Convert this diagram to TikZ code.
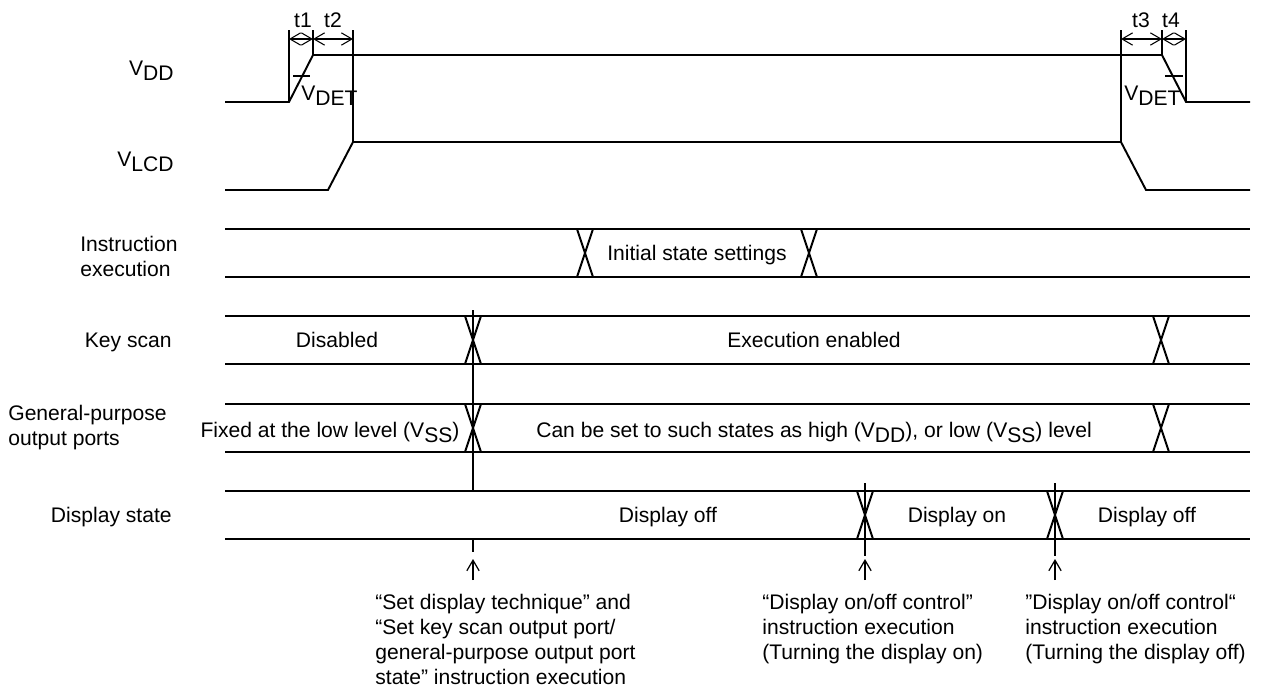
\documentclass[tikz,border=0pt]{standalone}
\usepackage{fontspec}
\setmainfont{Liberation Sans}
\usetikzlibrary{arrows.meta}

\newcommand{\lowsub}[1]{\raisebox{-3.4pt}{#1}}
\newcommand{\xcross}[3]{\draw[wave] (#1-8,#2) -- (#1+8,#3) (#1+8,#2) -- (#1-8,#3);}

\begin{document}
\begin{tikzpicture}[
    x=0.02cm, y=-0.02cm,
    every node/.style={font=\fontsize{12}{14.2}\selectfont, inner sep=0pt},
    wave/.style={line width=1.1pt},
    guide/.style={line width=0.6pt},
    span/.style={{Straight Barb[length=6pt,width=7pt]}-{Straight Barb[length=6pt,width=7pt]}, line width=0.6pt},
    marker/.style={-{Straight Barb[length=6pt,width=7pt]}, line width=0.7pt}
]
\useasboundingbox (0,0) rectangle (1262,697);

% signal names
\node (vdd) [anchor=base east] at (174,75) {V\lowsub{DD}};
\node (vlcd) [anchor=base east] at (174,166) {V\lowsub{LCD}};
\node (instr) [anchor=west, align=left] at (80,256) {Instruction\\execution};
\node (keyscan) [anchor=base east] at (172,347) {Key scan};
\node (gpport) [anchor=west, align=left] at (8,428) {General-purpose\\output ports};
\node (disp) [anchor=base east] at (172,522) {Display state};

% supply waveforms
\draw[wave] (225,102) -- (289,102) -- (313,55) -- (1162,55) -- (1186,102) -- (1250,102);
\draw[wave] (225,190) -- (328,190) -- (353,142) -- (1121,142) -- (1146,190) -- (1250,190);
\draw[guide, line width=0.8pt] (293,76) -- (310,76) (1165,76) -- (1183,76);
\node (vdet1) [anchor=base west] at (301,100) {V\lowsub{DET}};
\node (vdet2) [anchor=base west] at (1124,100) {V\lowsub{DET}};

% timing intervals
\coordinate (a1) at (289,39);
\coordinate (a2) at (313,39);
\coordinate (a3) at (353,39);
\coordinate (b1) at (1121,39);
\coordinate (b2) at (1162,39);
\coordinate (b3) at (1186,39);
\draw[guide] (289,30) -- (289,102) (313,30) -- (313,55) (353,30) -- (353,142);
\draw[guide] (1121,30) -- (1121,142) (1162,30) -- (1162,55) (1186,30) -- (1186,102);
\draw[span] (a1) -- (a2);
\draw[span] (a2) -- (a3);
\draw[span] (b1) -- (b2);
\draw[span] (b2) -- (b3);
\node (t1) at (303,20) {t1};
\node (t2) at (333,20) {t2};
\node (t3) at (1141,20) {t3};
\node (t4) at (1171,20) {t4};

% buses
\foreach \top/\bot in {229/277, 316/364, 404/452, 491/539}
    \draw[wave] (225,\top) -- (1250,\top) (225,\bot) -- (1250,\bot);
\xcross{585}{229}{277}
\xcross{809}{229}{277}
\xcross{473}{316}{364}
\xcross{1161}{316}{364}
\xcross{473}{404}{452}
\xcross{1161}{404}{452}
\xcross{865}{491}{539}
\xcross{1055}{491}{539}

\node (init) [anchor=base] at (697,260) {Initial state settings};
\node (disabled) [anchor=base] at (337,347) {Disabled};
\node (enabled) [anchor=base] at (814,347) {Execution enabled};
\node (fixed) [anchor=base] at (330,437) {Fixed at the low level (V\lowsub{SS})};
\node (settable) [anchor=base] at (814,437) {Can be set to such states as high (V\lowsub{DD}), or low (V\lowsub{SS}) level};
\node (off1) [anchor=base] at (668,522) {Display off};
\node (on) [anchor=base] at (957,522) {Display on};
\node (off2) [anchor=base] at (1147,522) {Display off};

% instruction events
\draw[guide] (473,310) -- (473,491) (473,539) -- (473,552);
\draw[guide] (865,483) -- (865,556);
\draw[guide] (1055,483) -- (1055,556);
\coordinate (e1) at (473,559);
\coordinate (e2) at (865,559);
\coordinate (e3) at (1055,559);
\draw[marker] (473,580) -- (e1);
\draw[marker] (865,580) -- (e2);
\draw[marker] (1055,580) -- (e3);

\node (note1) [anchor=north west, align=left] at (375,594) {“Set display technique” and\\“Set key scan output port/\\general-purpose output port\\state” instruction execution};
\node (note2) [anchor=north west, align=left] at (762,594) {“Display on/off control”\\instruction execution\\(Turning the display on)};
\node (note3) [anchor=north west, align=left] at (1025,594) {”Display on/off control“\\instruction execution\\(Turning the display off)};
\end{tikzpicture}
\end{document}
